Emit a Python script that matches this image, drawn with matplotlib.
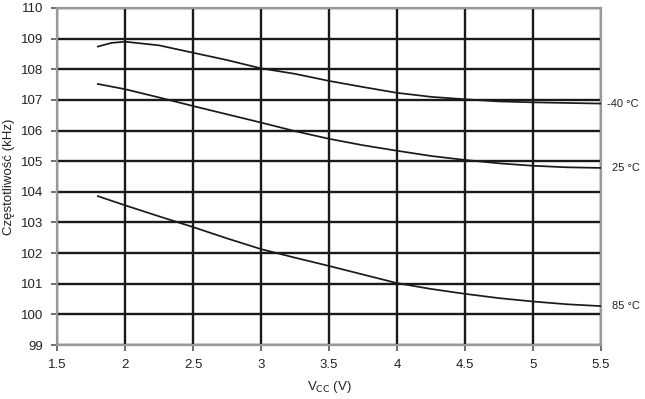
import matplotlib
matplotlib.use("Agg")
import matplotlib.pyplot as plt

plt.rcParams["font.family"] = ["Liberation Sans", "DejaVu Sans"]

# ── Data ──────────────────────────────────────────────────────────────────────
vcc_m40 = [1.8, 1.9, 2.0, 2.25, 2.5, 2.75, 3.0, 3.25, 3.5, 3.75, 4.0, 4.25, 4.5, 4.75, 5.0, 5.25, 5.5]
f_m40   = [108.74, 108.86, 108.9, 108.78, 108.54, 108.3, 108.03, 107.85, 107.62, 107.42,
           107.23, 107.1, 107.02, 106.95, 106.92, 106.9, 106.88]

vcc = [1.8, 2.0, 2.25, 2.5, 2.75, 3.0, 3.25, 3.5, 3.75, 4.0, 4.25, 4.5, 4.75, 5.0, 5.25, 5.5]
f_25 = [107.52, 107.35, 107.08, 106.8, 106.53, 106.26, 105.98, 105.73, 105.52, 105.34,
        105.17, 105.04, 104.93, 104.85, 104.8, 104.78]
f_85 = [103.86, 103.56, 103.2, 102.85, 102.48, 102.13, 101.85, 101.58, 101.3, 101.02,
        100.83, 100.67, 100.53, 100.42, 100.33, 100.27]

labels = ["-40 °C", "25 °C", "85 °C"]
label_x = [5.545, 5.58, 5.58]

xticks = [1.5, 2, 2.5, 3, 3.5, 4, 4.5, 5, 5.5]
yticks = list(range(99, 111))

# ── Plot ──────────────────────────────────────────────────────────────────────
fig = plt.figure(figsize=(6.45, 3.99), dpi=100, facecolor="white")
ax = fig.add_axes([0.0884, 0.1353, 0.8434, 0.8447])

ax.set_xlim(1.5, 5.5)
ax.set_ylim(99, 110)
ax.set_xticks(xticks)
ax.set_xticklabels([f"{t:g}" for t in xticks])
ax.set_yticks(yticks)

ax.grid(True, color="#1a1a1a", linewidth=1.7)
ax.set_axisbelow(True)
for sp in ax.spines.values():
    sp.set_color("#999999")
    sp.set_linewidth(1.6)
ax.tick_params(direction="out", length=4, width=1.2, color="#555555",
               labelsize=9.5, labelcolor="#222222", pad=6)

series = [(vcc_m40, f_m40), (vcc, f_25), (vcc, f_85)]
for (xs, ys), lab, lx in zip(series, labels, label_x):
    ax.plot(xs, ys, color="#1a1a1a", linewidth=1.25, zorder=3)
    ax.text(lx, ys[-1], lab, fontsize=8, color="#222222",
            ha="left", va="center", clip_on=False)

ax.set_xlabel("V$_{\\mathrm{CC}}$ (V)", fontsize=9.5, color="#222222", labelpad=6)
ax.set_ylabel("Częstotliwość (kHz)", fontsize=9.5, color="#222222", labelpad=4)

fig.savefig("out.png", dpi=100, facecolor="white")
